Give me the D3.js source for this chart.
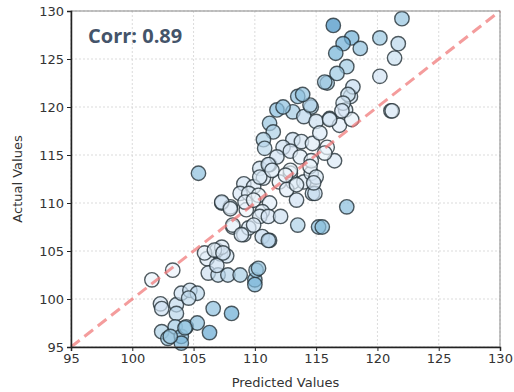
<!DOCTYPE html>
<html>
<head>
<meta charset="utf-8">
<script src="https://cdn.jsdelivr.net/npm/d3@7"></script>
<style>
  body { margin: 0; background: #fff; }
  svg { display: block; font-family: "DejaVu Sans", sans-serif; }
</style>
</head>
<body>
<div id="chart"></div>
<script>
const predicted = [
  101.6, 103.3, 102.3, 102.4, 103.6, 103.6, 104.0, 104.7, 105.3, 104.6,
  102.4, 102.9, 103.5, 104.0, 104.4, 105.3, 106.3, 106.6, 108.1, 104.0,
  106.1, 107.2, 107.7, 106.2, 107.0, 107.8, 108.8, 106.9, 107.3, 108.0,
  108.2, 109.1, 109.3, 110.0, 110.0, 110.1, 109.5, 103.1, 104.3, 106.9,
  110.3, 107.3, 105.4, 110.4, 111.2, 110.7, 109.1, 109.9, 108.8, 109.5,
  110.3, 107.3, 108.0, 109.2, 109.9, 111.2, 110.6, 110.4, 111.1, 112.1,
  108.2, 109.9, 108.9, 110.6, 111.2, 113.4, 113.5, 115.2, 113.1, 112.0,
  112.9, 114.0, 114.6, 114.7, 112.6, 105.9, 106.7, 107.4, 114.9, 117.5,
  115.5, 111.1, 113.5, 121.1, 113.1, 114.6, 114.0, 111.8, 111.2, 112.3,
  111.5, 110.7, 110.8, 113.1, 113.8, 114.7, 115.0, 115.3, 116.1, 116.9,
  117.4, 117.8, 117.9, 115.9, 116.5, 115.7, 112.3, 112.9, 113.7, 114.6,
  111.8, 111.1, 112.9, 114.5, 115.0, 110.4, 111.4, 112.5, 113.4, 114.8,
  115.9, 116.4, 117.9, 117.2, 118.6, 116.6, 117.5, 116.7, 115.7, 118.0,
  117.6, 117.2, 120.2, 122.0, 121.7, 121.4, 120.2, 121.2, 114.5, 113.9,
  117.1, 116.1
];
const actual = [
  102.0, 103.0, 99.5, 99.0, 99.4, 98.5, 100.6, 100.9, 100.6, 100.1,
  96.6, 95.9, 97.1, 96.1, 97.1, 97.5, 96.5, 99.0, 98.5, 95.4,
  104.2, 104.7, 104.5, 102.7, 102.5, 102.5, 102.5, 103.5, 110.0, 109.6,
  107.5, 106.7, 109.3, 102.0, 101.5, 103.0, 107.4, 96.1, 97.0, 105.1,
  103.2, 105.4, 113.1, 113.6, 114.0, 112.6, 112.0, 111.7, 111.0, 111.0,
  110.8, 110.1, 109.4, 110.1, 110.3, 110.0, 109.1, 108.6, 108.6, 108.6,
  107.7, 107.7, 106.7, 106.5, 106.1, 110.3, 107.7, 107.5, 112.2, 112.2,
  113.1, 112.2, 113.1, 111.0, 111.4, 104.8, 105.1, 104.8, 111.0, 109.6,
  107.5, 106.1, 121.1, 119.6, 119.5, 120.0, 119.0, 119.7, 118.3, 120.0,
  117.4, 116.6, 115.7, 116.6, 116.4, 116.2, 118.5, 117.3, 118.8, 118.1,
  119.7, 121.1, 118.7, 115.8, 114.4, 115.2, 115.8, 115.4, 114.8, 114.4,
  114.8, 114.0, 113.4, 113.8, 112.7, 112.7, 113.4, 112.9, 111.9, 112.1,
  122.5, 128.5, 127.2, 126.6, 126.1, 125.6, 124.2, 123.5, 122.6, 122.1,
  121.3, 120.4, 127.2, 129.2, 126.6, 125.1, 123.2, 119.6, 120.2, 121.3,
  119.6, 118.7
];
const xTicks = [95, 100, 105, 110, 115, 120, 125, 130];
const yTicks = [95, 100, 105, 110, 115, 120, 125, 130];
const corrLabel = "Corr: 0.89";

const width = 514, height = 392;
const margin = { top: 11, right: 14, bottom: 45, left: 71 };
const innerW = width - margin.left - margin.right;
const innerH = height - margin.top - margin.bottom;

const svg = d3.select('#chart').append('svg')
  .attr('width', width)
  .attr('height', height);

const g = svg.append('g')
  .attr('transform', `translate(${margin.left},${margin.top})`);

const x = d3.scaleLinear().domain([95, 130]).range([0, innerW]);
const y = d3.scaleLinear().domain([95, 130]).range([innerH, 0]);

// grid
g.append('g').selectAll('line').data(xTicks).enter().append('line')
  .attr('x1', d => x(d)).attr('x2', d => x(d))
  .attr('y1', 0).attr('y2', innerH)
  .attr('stroke', '#d2d2d2').attr('stroke-width', 0.8)
  .attr('stroke-dasharray', '2,2');
g.append('g').selectAll('line').data(yTicks).enter().append('line')
  .attr('y1', d => y(d)).attr('y2', d => y(d))
  .attr('x1', 0).attr('x2', innerW)
  .attr('stroke', '#d2d2d2').attr('stroke-width', 0.8)
  .attr('stroke-dasharray', '2,2');

// points, coloured by absolute error
const points = predicted.map((p, i) => ({ p, a: actual[i], err: Math.abs(actual[i] - p) }));
const color = d3.scaleLinear().domain([0, 12.5]).range([0.04, 0.65]).clamp(true);

g.append('g').selectAll('circle').data(points).enter().append('circle')
  .attr('cx', d => x(d.p))
  .attr('cy', d => y(d.a))
  .attr('r', 7.2)
  .attr('fill', d => d3.interpolateBlues(color(d.err)))
  .attr('fill-opacity', 0.7)
  .attr('stroke', '#263238')
  .attr('stroke-opacity', 0.8)
  .attr('stroke-width', 1.4);

// diagonal
g.append('line')
  .attr('x1', x(95)).attr('y1', y(95))
  .attr('x2', x(130)).attr('y2', y(130))
  .attr('stroke', '#f07b7b').attr('stroke-opacity', 0.75)
  .attr('stroke-width', 3)
  .attr('stroke-dasharray', '11,6');

// spines
g.append('rect')
  .attr('width', innerW).attr('height', innerH)
  .attr('fill', 'none').attr('stroke', '#888').attr('stroke-width', 1);

const xAxis = g.append('g')
  .attr('transform', `translate(0,${innerH})`)
  .call(d3.axisBottom(x).tickValues(xTicks).tickSize(4).tickPadding(3));
const yAxis = g.append('g')
  .call(d3.axisLeft(y).tickValues(yTicks).tickSize(4).tickPadding(3));

[xAxis, yAxis].forEach(a => {
  a.select('.domain').attr('stroke', '#222').attr('stroke-width', 1.5);
  a.selectAll('.tick line').attr('stroke', '#222');
  a.selectAll('.tick text')
    .attr('fill', '#333')
    .style('font-size', '13px')
    .style('font-family', '"DejaVu Sans", sans-serif');
});

svg.append('text')
  .attr('x', margin.left + innerW / 2)
  .attr('y', 387)
  .attr('text-anchor', 'middle')
  .attr('fill', '#333')
  .style('font-size', '13px')
  .text('Predicted Values');

svg.append('text')
  .attr('transform', `translate(22,${margin.top + innerH / 2}) rotate(-90)`)
  .attr('text-anchor', 'middle')
  .attr('fill', '#333')
  .style('font-size', '13px')
  .text('Actual Values');

g.append('text')
  .attr('x', 17)
  .attr('y', 32)
  .attr('fill', '#44546a')
  .style('font-family', '"Open Sans", sans-serif')
  .style('font-weight', 'bold')
  .style('font-size', '20px')
  .text(corrLabel);
</script>
</body>
</html>
